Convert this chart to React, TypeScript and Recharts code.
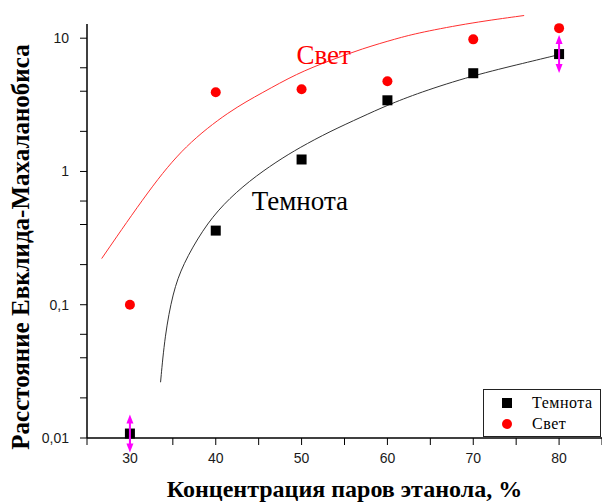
import React from 'react';
import { ComposedChart, Line, Scatter, XAxis, YAxis, ReferenceLine, ReferenceDot } from 'recharts';

// Categories (ethanol vapour concentration, %)
const categories = [30, 40, 50, 60, 70, 80];
// Series names
const darkName = 'Темнота';
const lightName = 'Свет';
// Measured values
const darkValues = [0.0108, 0.36, 1.23, 3.42, 5.46, 7.6];
const lightValues = [0.1, 3.93, 4.14, 4.75, 9.8, 11.9];
// Points with error arrows
const errorX = [30, 80];
const errorY = [0.0108, 7.6];
// Fitted curves
const darkFitX = [33.57, 34.07, 35.0, 36.16, 38.49, 40.81, 43.95, 47.09, 49.77, 53.26, 57.09, 59.88, 63.72, 69.88, 76.16, 79.77];
const darkFitY = [0.0262, 0.0587, 0.1234, 0.2003, 0.3664, 0.565, 0.855, 1.186, 1.511, 1.992, 2.582, 3.121, 3.908, 5.24, 6.56, 7.47];
const lightFitX = [26.71, 32.33, 36.4, 41.63, 45.47, 49.42, 53.26, 57.09, 61.05, 63.72, 69.88, 75.93];
const lightFitY = [0.222, 0.745, 1.565, 2.86, 3.91, 5.42, 6.79, 8.36, 9.93, 11.02, 13.1, 14.8];
// Axes
const xTicks = [25, 30, 35, 40, 45, 50, 55, 60, 65, 70, 75, 80, 85];
const yMajorTicks = [0.01, 0.1, 1, 10];
const yMajorLabels = ['0,01', '0,1', '1', '10'];
const yMinorMultipliers = [2, 3, 4, 5, 6, 7, 8, 9];
const xTitle = 'Концентрация паров этанола, %';
const yTitle = 'Расстояние Евклида-Махаланобиса';
// Annotation anchors (data coords)
const lightLabelPos = { x: 49.4, y: 6.4 };
const darkLabelPos = { x: 44.2, y: 0.51 };

const yTicks: number[] = [];
yMajorTicks.forEach((d, i) => {
  yTicks.push(d);
  if (i < yMajorTicks.length - 1) yMinorMultipliers.forEach((m) => yTicks.push(+(d * m).toPrecision(6)));
});

const darkData = categories.map((x, i) => ({ x, y: darkValues[i] }));
const lightData = categories.map((x, i) => ({ x, y: lightValues[i] }));
const errData = errorX.map((x, i) => ({ x, y: errorY[i] }));
const darkFit = darkFitX.map((x, i) => ({ x, y: darkFitY[i] }));
const lightFit = lightFitX.map((x, i) => ({ x, y: lightFitY[i] }));

const TICK_FONT = '"Liberation Sans", Arial, sans-serif';
const SERIF = '"Liberation Serif", "Times New Roman", serif';

const XTick = (props: any) => {
  const { x, y, payload } = props;
  if (payload.value % 10 !== 0 || payload.value > 80) return <g />;
  return (
    <text x={x} y={y} dy="0.71em" textAnchor="middle" fontFamily={TICK_FONT} fontSize={14} fill="#1a1a1a">
      {payload.value}
    </text>
  );
};

const YTick = (props: any) => {
  const { x, y, payload } = props;
  const idx = yMajorTicks.findIndex((v) => Math.abs(v - payload.value) < v * 1e-6);
  if (idx < 0) return <g />;
  return (
    <text x={x} y={y} dy="0.355em" textAnchor="end" fontFamily={TICK_FONT} fontSize={14} fill="#1a1a1a">
      {yMajorLabels[idx]}
    </text>
  );
};

const SquareShape = (p: any) => <rect x={p.cx - 5} y={p.cy - 5} width={10} height={10} fill="#000" />;
const CircleShape = (p: any) => <circle cx={p.cx} cy={p.cy} r={5} fill="#ff0000" />;
const ArrowShape = (p: any) => {
  const { cx, cy } = p;
  const c = '#ff00ff';
  return (
    <g>
      <line x1={cx} y1={cy - 12} x2={cx} y2={cy + 12} stroke={c} strokeWidth={2} />
      <polygon points={`${cx},${cy - 19} ${cx - 3.5},${cy - 10} ${cx + 3.5},${cy - 10}`} fill={c} />
      <polygon points={`${cx},${cy + 19} ${cx - 3.5},${cy + 10} ${cx + 3.5},${cy + 10}`} fill={c} />
    </g>
  );
};

export default function App() {
  return (
    <div style={{ position: 'absolute', left: 0, top: 0, width: 602, height: 504, background: '#fff' }}>
      <ComposedChart width={602} height={504} margin={{ top: 11, right: 0, bottom: 6, left: 0 }}>
        <XAxis
          type="number"
          dataKey="x"
          domain={[25, 85]}
          ticks={xTicks}
          height={60}
          tick={<XTick />}
          tickSize={7}
          tickMargin={8}
          stroke="#000"
          axisLine={{ stroke: '#000', strokeWidth: 1.5 }}
          tickLine={{ stroke: '#000' }}
          label={{
            content: (props: any) => {
              const vb = props.viewBox;
              return (
                <text x={vb.x + vb.width / 2} y={vb.y + 59} textAnchor="middle" fontFamily={SERIF} fontWeight="bold" fontSize={24} fill="#000">
                  {xTitle}
                </text>
              );
            },
          }}
        />
        <YAxis
          type="number"
          scale="log"
          domain={[0.01, 16]}
          ticks={yTicks}
          width={87}
          tick={<YTick />}
          tickSize={7}
          tickMargin={11}
          axisLine={false}
          tickLine={{ stroke: '#000' }}
          label={{
            content: () => (
              <text x={29} y={247} transform="rotate(-90 29 247)" textAnchor="middle" fontFamily={SERIF} fontWeight="bold" fontSize={25} fill="#000">
                {yTitle}
              </text>
            ),
          }}
        />
        <ReferenceLine segment={[{ x: 25, y: 0.01 }, { x: 25, y: 12.8 }]} stroke="#000" strokeWidth={1.5} ifOverflow="visible" />
        <Line data={lightFit} dataKey="y" type="basis" stroke="#ff3030" strokeWidth={1} dot={false} isAnimationActive={false} />
        <Line data={darkFit} dataKey="y" type="basis" stroke="#333" strokeWidth={1} dot={false} isAnimationActive={false} />
        <Scatter name={darkName} data={darkData} dataKey="y" shape={<SquareShape />} isAnimationActive={false} />
        <Scatter name={lightName} data={lightData} dataKey="y" shape={<CircleShape />} isAnimationActive={false} />
        <Scatter data={errData} dataKey="y" shape={<ArrowShape />} isAnimationActive={false} />
        <ReferenceDot
          x={lightLabelPos.x}
          y={lightLabelPos.y}
          r={0}
          ifOverflow="visible"
          shape={(p: any) => (
            <text x={p.cx} y={p.cy} fontFamily={SERIF} fontSize={27} fill="#ff0000">{lightName}</text>
          )}
        />
        <ReferenceDot
          x={darkLabelPos.x}
          y={darkLabelPos.y}
          r={0}
          ifOverflow="visible"
          shape={(p: any) => (
            <text x={p.cx} y={p.cy} fontFamily={SERIF} fontSize={27} fill="#000">{darkName}</text>
          )}
        />
      </ComposedChart>
      <svg width={118} height={48} style={{ position: 'absolute', left: 483, top: 389 }}>
        <rect x={0.5} y={0.5} width={117} height={47} fill="#fff" stroke="#222" strokeWidth={1} />
        <rect x={19} y={9} width={10} height={10} fill="#000" />
        <text x={49} y={19} fontFamily={SERIF} fontSize={16} letterSpacing={0.5} fill="#000">{darkName}</text>
        <circle cx={24} cy={35} r={5} fill="#ff0000" />
        <text x={49} y={40} fontFamily={SERIF} fontSize={16} letterSpacing={0.5} fill="#000">{lightName}</text>
      </svg>
    </div>
  );
}
